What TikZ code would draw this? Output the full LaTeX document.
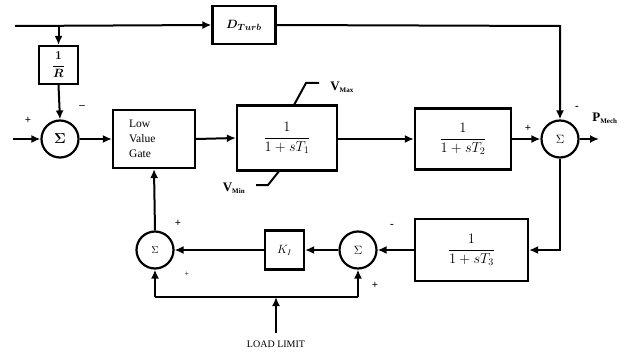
\documentclass[tikz,border=0pt]{standalone}
\usepackage{amsmath}
\usepackage{bm}
\usepackage{fontspec}
\setmainfont{Liberation Serif}
\usetikzlibrary{arrows.meta}
\begin{document}
\begin{tikzpicture}[x=1pt,y=-1pt,
  blk/.style={draw,line width=2.2pt,inner sep=0pt,align=center},
  sumc/.style={draw,circle,line width=2.2pt,minimum size=37pt,inner sep=0pt},
  ln/.style={line width=2pt},
  arr/.style={line width=2pt,-{Latex[length=9pt,width=8pt]}},
  sgn/.style={font=\fontsize{11}{12}\selectfont\bfseries,inner sep=0pt}]
\useasboundingbox (0,0) rectangle (624,353);
% blocks
\node[blk,minimum width=63pt,minimum height=38pt] (dturb) at (244,25) {\fontsize{13}{15}\selectfont$\bm{D_{\scriptstyle Turb}}$};
\node[blk,minimum width=39pt,minimum height=38pt] (rbox) at (58.5,65) {\fontsize{13}{15}\selectfont$\bm{\dfrac{1}{R}}$};
\node[sumc] (s1) at (60,139) {\fontsize{14}{16}\selectfont$\bm{\Sigma}$};
\node[blk,minimum width=82pt,minimum height=58pt] (lvg) at (154,139) {};
\node[anchor=west,align=left,inner sep=0pt,font=\fontsize{11.5}{15}\selectfont] (lvgt) at (129,139) {Low\\Value\\Gate};
\node[blk,minimum width=100pt,minimum height=65pt] (t1) at (287,138) {\fontsize{14}{17}\selectfont$\dfrac{1}{1+sT_1}$};
\node[blk,minimum width=96pt,minimum height=61pt] (t2) at (463,139) {\fontsize{14}{17}\selectfont$\dfrac{1}{1+sT_2}$};
\node[sumc] (s2) at (560,139) {\fontsize{12}{14}\selectfont$\Sigma$};
\node[blk,minimum width=113pt,minimum height=62pt] (t3) at (471.5,250) {\fontsize{14}{17}\selectfont$\dfrac{1}{1+sT_3}$};
\node[sumc] (s4) at (358,250) {\fontsize{12}{14}\selectfont$\Sigma$};
\node[blk,minimum width=39pt,minimum height=39pt] (ki) at (284.5,250) {\fontsize{12}{14}\selectfont$K_I$};
\node[sumc] (s3) at (155,250) {\fontsize{10}{12}\selectfont$\Sigma$};
% coordinates
\coordinate (in1) at (15,26);
\coordinate (jr) at (58.5,26);
\coordinate (ctr) at (560,26);
\coordinate (in2) at (13,139);
\coordinate (out) at (599,139);
\coordinate (cbr) at (560,250);
\coordinate (bl) at (155,297);
\coordinate (br) at (358,297);
\coordinate (ll) at (276,333);
\coordinate (lm) at (276,297);
\coordinate (vmx1) at (294,105);
\coordinate (vmx2) at (306,83);
\coordinate (vmx3) at (319,83);
\coordinate (vmn1) at (280,170);
\coordinate (vmn2) at (268,185);
\coordinate (vmn3) at (256,185);
% connectors
\draw[arr] (in1) -- (dturb.west);
\draw[arr] (jr) -- (rbox.north);
\draw[arr] (rbox.south) -- (s1.north);
\draw[arr] (dturb.east) -- (ctr) -- (s2.north);
\draw[arr] (in2) -- (s1.west);
\draw[arr] (s1.east) -- (lvg.west);
\draw[arr] (lvg.east) -- (t1.west);
\draw[arr] (t1.east |- t2.west) -- (t2.west);
\draw[arr] (t2.east) -- (s2.west);
\draw[arr] (s2.east) -- (out);
\draw[arr] (s2.south) -- (cbr) -- (t3.east);
\draw[arr] (t3.west) -- (s4.east);
\draw[arr] (s4.west) -- (ki.east);
\draw[arr] (ki.west) -- (s3.east);
\draw[arr] (s3.north) -- (lvg.south);
\draw[ln] (bl) -- (br);
\draw[arr] (bl) -- (s3.south);
\draw[arr] (br) -- (s4.south);
\draw[arr] (ll) -- (lm);
\draw[ln] (vmx1) -- (vmx2) -- (vmx3);
\draw[ln] (vmn1) -- (vmn2) -- (vmn3);
% labels
\node[inner sep=0pt,font=\fontsize{13}{14}\selectfont\bfseries] (vmax) at (342,87) {V\textsubscript{\fontsize{7}{8}\selectfont Max}};
\node[inner sep=0pt,font=\fontsize{13}{14}\selectfont\bfseries] (vmin) at (234,188) {V\textsubscript{\fontsize{7}{8}\selectfont Min}};
\node[inner sep=0pt,font=\fontsize{13}{14}\selectfont\bfseries] (pmech) at (605,118) {P\textsubscript{\fontsize{7}{8}\selectfont Mech}};
\node[inner sep=0pt,font=\fontsize{10}{11}\selectfont] (load) at (276,344) {LOAD LIMIT};
\node[sgn] (p1) at (28,120) {+};
\node[sgn] (m1) at (82,107) {--};
\node[sgn] (p2) at (528,128) {+};
\node[sgn] (m2) at (577,108) {-};
\node[sgn] (p3) at (178,223) {+};
\node[sgn,font=\fontsize{8}{9}\selectfont] (p4) at (187,274) {+};
\node[sgn] (m3) at (392,226) {-};
\node[sgn] (p5) at (375,285) {+};
\end{tikzpicture}
\end{document}
